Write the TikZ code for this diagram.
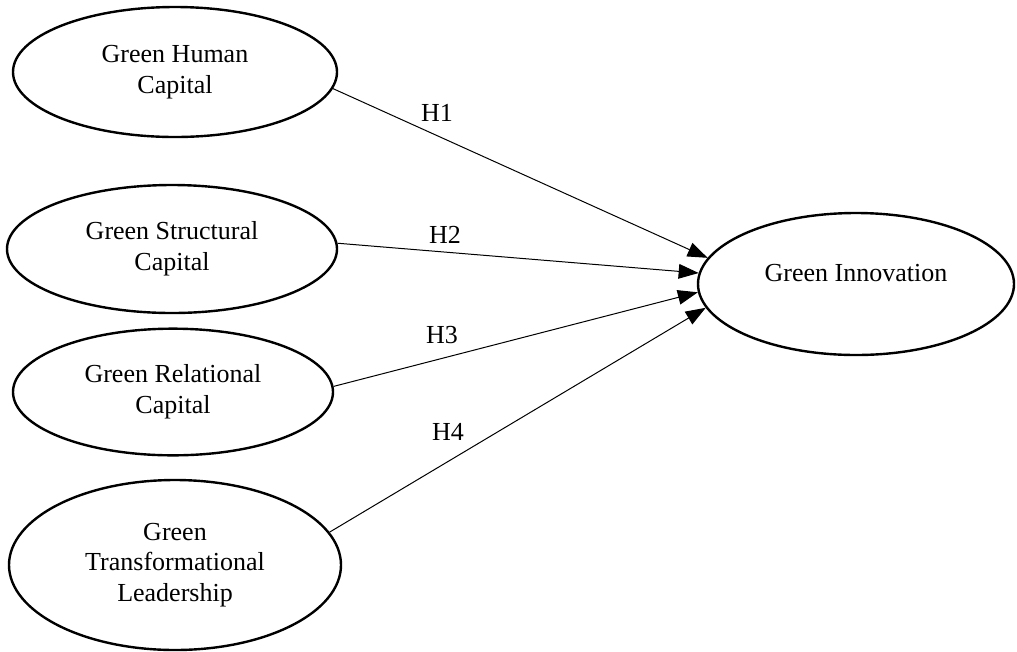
\documentclass[tikz,border=0pt]{standalone}
\usepackage{fontspec}
\setmainfont{Liberation Serif}
\usetikzlibrary{arrows.meta,shapes.geometric}

\tikzset{
  latent/.style={draw, ellipse, line width=1.8pt, align=center,
    inner sep=0pt, font=\fontsize{19.5}{23}\selectfont},
  hpath/.style={-{Triangle[length=15pt,width=11pt]}, line width=0.75pt},
  hyp/.style={font=\fontsize{19.5}{23}\selectfont}
}

\begin{document}
\begin{tikzpicture}[x=0.75pt,y=-0.75pt]
      \useasboundingbox (0,0) rectangle (1017,651);
      \node[latent, minimum width=243pt, minimum height=97.5pt] (gh) at (175,72)
      {Green Human\\Capital};
      \node[latent, minimum width=247.5pt, minimum height=96pt] (gs) at (172,249)
      {Green Structural\\Capital};
      \node[latent, minimum width=240pt, minimum height=95pt] (gr) at (173,392)
      {Green Relational\\Capital};
      \node[latent, minimum width=249pt, minimum height=127.5pt] (gt) at (175,565)
      {Green\\Transformational\\Leadership};
      \node[latent, minimum width=237pt, minimum height=106.5pt] (gi) at (856,284)
      {}; % text sits a little above the centre
      \node[hyp] (gilabel) at (856,273) {Green Innovation};
      \draw[hpath] (gh.-6) -- (gi.170);
      \draw[hpath] (gs.2) -- (gi.176);
      \draw[hpath] (gr.2) -- (gi.183);
      \draw[hpath] (gt.12) -- (gi.189);
      \node[hyp] (h1) at (437,113) {H1};
      \node[hyp] (h2) at (445,235) {H2};
      \node[hyp] (h3) at (442,335) {H3};
      \node[hyp] (h4) at (448,432) {H4};
    \end{tikzpicture}
\end{document}
